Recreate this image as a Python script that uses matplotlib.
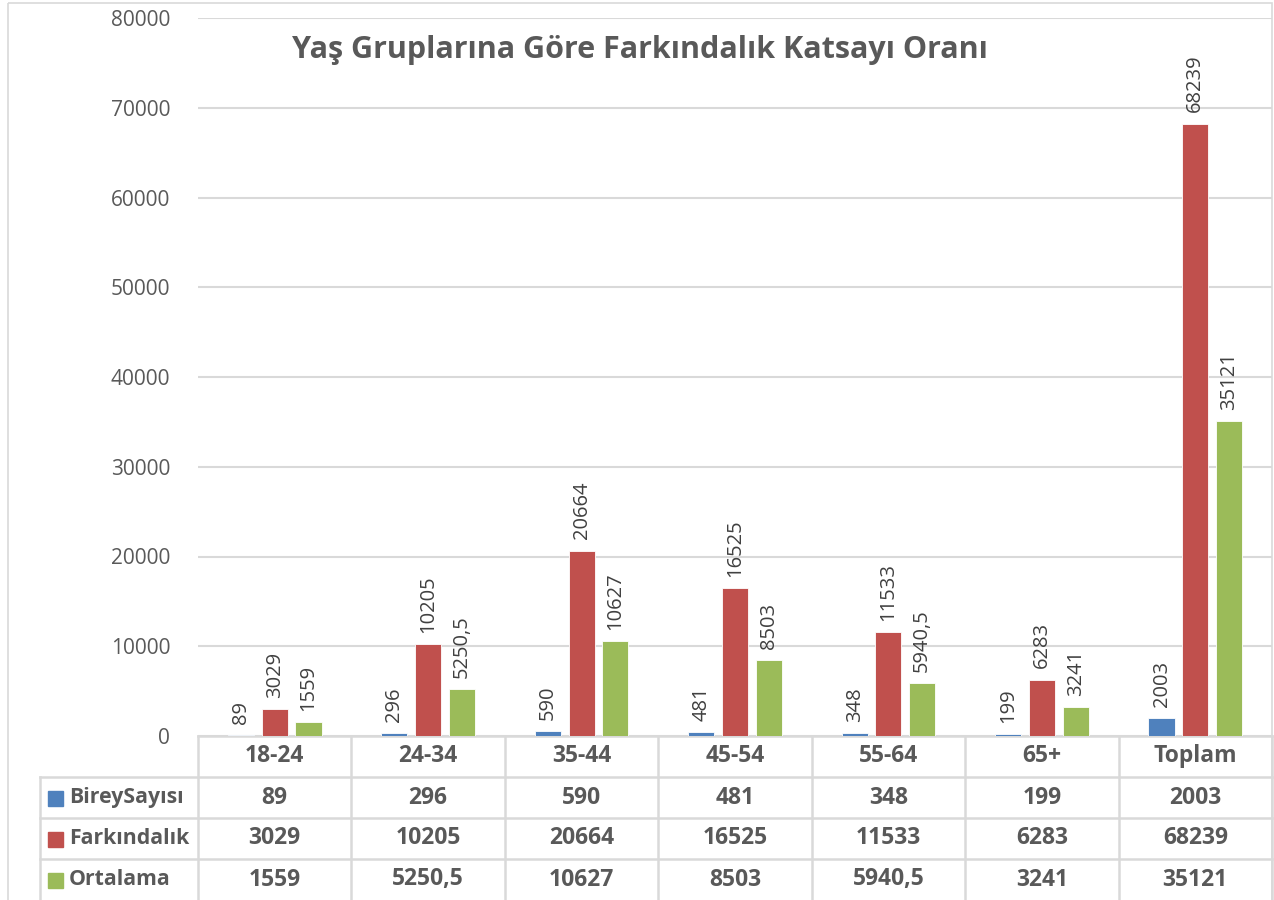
import matplotlib
matplotlib.use('Agg')
from matplotlib import pyplot as plt
from matplotlib.lines import Line2D
from matplotlib.patches import Rectangle
import numpy as np

plt.rcParams['font.family'] = ['Open Sans', 'DejaVu Sans']

# data
categories = ['18-24', '24-34', '35-44', '45-54', '55-64', '65+', 'Toplam']
series_names = ['BireySayısı', 'Farkındalık', 'Ortalama']
birey = [89, 296, 590, 481, 348, 199, 2003]
farkindalik = [3029, 10205, 20664, 16525, 11533, 6283, 68239]
ortalama = [1559, 5250.5, 10627, 8503, 5940.5, 3241, 35121]
y_ticks = [0, 10000, 20000, 30000, 40000, 50000, 60000, 70000, 80000]

colors = ['#4F81BD', '#C0504D', '#9BBB59']
text_c = '#595959'
grid_c = '#D9D9D9'


def fmt(v):
	# turkish decimal comma
	if float(v).is_integer():
		return str(int(v))
	return ('%g' % v).replace('.', ',')


W, H = 1274, 900
fig = plt.figure(figsize=(W / 100, H / 100), dpi=100)

# pixel helper for layout (table + border)
px = fig.add_axes([0, 0, 1, 1])
px.set_xlim(0, W)
px.set_ylim(H, 0)
px.axis('off')
px.add_patch(Rectangle((8, 3), 1264, 900, fill=False, ec=grid_c, lw=1.2))

ax = fig.add_axes([198 / W, (H - 736) / H, (1272 - 198) / W, (736 - 18) / H])
ax.set_facecolor('none')
x = np.arange(len(categories))
bw = 0.17
step = 0.22
for i, vals in enumerate([birey, farkindalik, ortalama]):
	pos = x + (i - 1) * step
	bars = ax.bar(pos, vals, bw, color=colors[i], edgecolor='white', linewidth=0.6, zorder=3)
	for b, v in zip(bars, vals):
		ax.annotate(fmt(v), (b.get_x() + b.get_width() / 2, b.get_height()),
			xytext=(0, 8), textcoords='offset points', rotation=90,
			ha='center', va='bottom', fontsize=14.5, color='#404040')

ax.set_xlim(-0.5, len(categories) - 0.5)
ax.set_ylim(0, 80000)
ax.set_yticks(y_ticks)
ax.set_yticklabels([str(t) for t in y_ticks])
ax.tick_params(axis='y', length=0, pad=20, labelsize=15, labelcolor=text_c)
ax.set_xticks([])
ax.grid(axis='y', color=grid_c, lw=1.5, zorder=0)
for s in ax.spines.values():
	s.set_visible(False)
ax.text(0.4115, 0.955, 'Yaş Gruplarına Göre Farkındalık Katsayı Oranı', transform=ax.transAxes,
	ha='center', va='center', fontsize=22, fontweight='bold', color=text_c)

# data table under the plot
col_edges = [198 + (1272 - 198) * k / len(categories) for k in range(len(categories) + 1)]
row_edges = [736, 777, 818, 859, 900]
lc = dict(color=grid_c, lw=1.8)
px.add_line(Line2D([198, 1272], [736, 736], **lc))
for yy in row_edges[1:4]:
	px.add_line(Line2D([40, 1272], [yy, yy], **lc))
for xx in col_edges:
	px.add_line(Line2D([xx, xx], [736, 900], **lc))
px.add_line(Line2D([40, 40], [777, 900], **lc))

fs_tab = 16.5
for k, c in enumerate(categories):
	cx = (col_edges[k] + col_edges[k + 1]) / 2
	px.text(cx, (row_edges[0] + row_edges[1]) / 2, c, ha='center', va='center',
		fontsize=fs_tab, fontweight='bold', color=text_c)
for r, (name, vals) in enumerate(zip(series_names, [birey, farkindalik, ortalama])):
	cy = (row_edges[r + 1] + row_edges[r + 2]) / 2
	px.add_patch(Rectangle((48, cy - 7), 15, 15, color=colors[r]))
	px.text(69, cy, name, ha='left', va='center', fontsize=15.3, fontweight='bold', color=text_c)
	for k, v in enumerate(vals):
		cx = (col_edges[k] + col_edges[k + 1]) / 2
		px.text(cx, cy, fmt(v), ha='center', va='center', fontsize=fs_tab, fontweight='bold', color=text_c)

fig.savefig('out.png', dpi=100)
